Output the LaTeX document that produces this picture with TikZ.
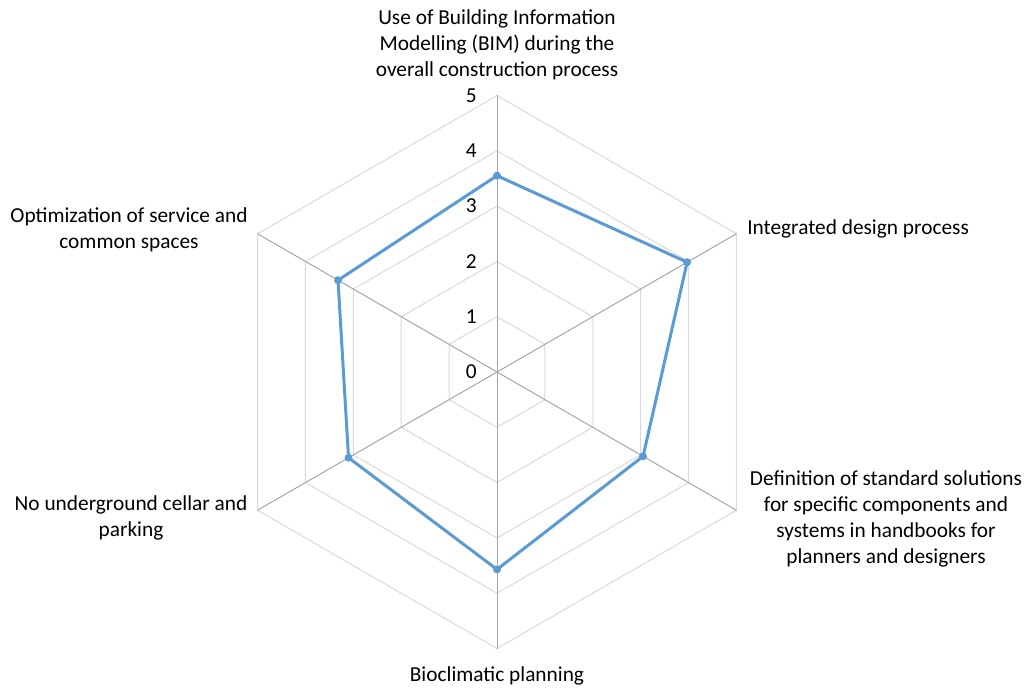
\documentclass[tikz,border=0pt]{standalone}
\usepackage{fontspec}
\setmainfont{Carlito}
\definecolor{ringgray}{HTML}{D9D9D9}
\definecolor{axisgray}{HTML}{A6A6A6}
\definecolor{series}{HTML}{5B9BD5}
\tikzset{
  ring/.style={draw=ringgray, line width=0.75pt},
  axisline/.style={draw=axisgray, line width=0.75pt},
  serline/.style={draw=series, line width=2.25pt, line join=round},
  dot/.style={circle, fill=series, inner sep=0pt, minimum size=6pt},
  lbl/.style={font=\fontsize{16}{19.5}\selectfont, inner sep=0pt, align=center, text=black},
  tick/.style={font=\fontsize{16}{19.5}\selectfont, inner sep=0pt, anchor=east, text=black}
}
\begin{document}
\begin{tikzpicture}[x=0.75pt,y=-0.75pt]
\useasboundingbox (0,0) rectangle (1024,688);
\def\cx{497}\def\cy{372}\def\u{55.3}
% rings
\foreach \k in {1,...,5}{
  \draw[ring] ({\cx+\k*\u*cos(90)},{\cy-\k*\u*sin(90)})
    \foreach \a in {30,-30,-90,-150,150}{ -- ({\cx+\k*\u*cos(\a)},{\cy-\k*\u*sin(\a)}) } -- cycle;
}
% axes
\coordinate (O) at (\cx,\cy);
\foreach \a/\n in {90/a1,30/a2,-30/a3,-90/a4,-150/a5,150/a6}{
  \coordinate (\n) at ({\cx+5*\u*cos(\a)},{\cy-5*\u*sin(\a)});
  \draw[axisline] (O) -- (\n);
}
% tick labels
\foreach \k in {0,...,5}{
  \node[tick] (t\k) at (477,{\cy-\k*\u}) {\k};
}
% data
\foreach \a/\v/\n in {90/3.55/p1,30/3.97/p2,-30/3.05/p3,-90/3.57/p4,-150/3.1/p5,150/3.32/p6}{
  \coordinate (\n) at ({\cx+\v*\u*cos(\a)},{\cy-\v*\u*sin(\a)});
}
\draw[serline] (p1) -- (p2) -- (p3) -- (p4) -- (p5) -- (p6) -- cycle;
\foreach \n in {p1,p2,p3,p4,p5,p6}{ \node[dot] (d\n) at (\n) {}; }
% category labels
\node[lbl] (l1) at (497,45) {Use of Building Information\\Modelling (BIM) during the\\overall construction process};
\node[lbl, anchor=west] (l2) at (747,229) {Integrated design process};
\node[lbl] (l3) at (886,519) {Definition of standard solutions\\for specific components and\\systems in handbooks for\\planners and designers};
\node[lbl] (l4) at (497,676) {Bioclimatic planning};
\node[lbl] (l5) at (131,518) {No underground cellar and\\parking};
\node[lbl] (l6) at (129,230) {Optimization of service and\\common spaces};
\end{tikzpicture}
\end{document}
